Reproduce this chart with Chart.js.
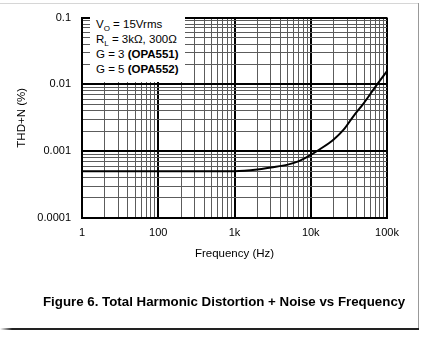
<!DOCTYPE html>
<html>
<head>
<meta charset="utf-8">
<script src="https://cdn.jsdelivr.net/npm/chart.js@4.4.0/dist/chart.umd.min.js"></script>
<style>
  html, body { margin: 0; padding: 0; background: #fff; }
  body { width: 428px; height: 361px; position: relative; overflow: hidden; font-family: "Liberation Sans", Arial, sans-serif; color: #000; }
  #chart { position: absolute; left: 0; top: 0; }
  .frame-top { position: absolute; left: 0; top: 3px; width: 418px; height: 1px; background: #d6d6d6; }
  .frame-right { position: absolute; left: 418px; top: 3px; width: 1px; height: 326px; background: #999; }
  .frame-bottom { position: absolute; left: 0; top: 328px; width: 419px; height: 2px; background: linear-gradient(to right, #fff, #222 12px); }
  #note { position: absolute; left: 90px; top: 13px; width: 95px; height: 69px; background: #fff; box-sizing: border-box; padding: 4px 0 0 6px; font-size: 11.5px; line-height: 15px; white-space: nowrap; }
  #note sub { font-size: 8px; vertical-align: -3px; line-height: 0; }
  #caption { position: absolute; left: 43px; top: 294px; font-size: 13.3px; line-height: 16px; font-weight: bold; white-space: nowrap; }
</style>
</head>
<body>
<div class="frame-top"></div>
<div class="frame-right"></div>
<div class="frame-bottom"></div>
<canvas id="chart" width="428" height="361"></canvas>
<div id="note">
  V<sub>O</sub> = 15Vrms<br>
  R<sub>L</sub> = 3kΩ, 300Ω<br>
  G = 3 <b>(OPA551)</b><br>
  G = 5 <b>(OPA552)</b>
</div>
<div id="caption">Figure 6. Total Harmonic Distortion + Noise vs Frequency</div>
<script>
// THD+N vs frequency
const freqHz = [10, 100, 500, 1000, 2000, 3000, 5000, 7000, 10000, 13000, 20000, 27000, 36000, 50000, 70000, 100000];
const thdPct = [0.0005, 0.0005, 0.0005, 0.0005, 0.00053, 0.00057, 0.00063, 0.00071, 0.00088, 0.00106, 0.0015, 0.0021, 0.0033, 0.0053, 0.0091, 0.0158];

// decade ticks and their printed labels (the plot prints "1" under the 10 Hz line)
const xTickValues = [10, 100, 1000, 10000, 100000];
const xTickLabels = ['1', '100', '1k', '10k', '100k'];
const yTickValues = [0.0001, 0.001, 0.01, 0.1];
const yTickLabels = ['0.0001', '0.001', '0.01', '0.1'];

const fontFamily = '"Liberation Sans", Arial, sans-serif';

// 1..9 in every decade for the grid
function gridValues(decades) {
    const out = [];
    decades.forEach((d, i) => {
        if (i === decades.length - 1) {
            out.push(d);
            return;
        }
        for (let m = 1; m <= 9; m++) out.push(m * d);
    });
    return out;
}

function isDecade(v) {
    const l = Math.log10(v);
    return Math.abs(l - Math.round(l)) < 1e-6;
}

function labelFor(values, labels, v) {
    const i = values.findIndex((t) => Math.abs(t - v) / t < 1e-6);
    return i >= 0 ? labels[i] : '';
}

const gridColor = (c) => (isDecade(c.tick.value) ? '#000' : '#5c5c5c');
const gridWidth = (c) => (isDecade(c.tick.value) ? 2 : 1);

const ctx = document.getElementById('chart').getContext('2d');
new Chart(ctx, {
    type: 'line',
    data: {
        datasets: [{
            data: freqHz.map((f, i) => ({ x: f, y: thdPct[i] })),
            borderColor: '#000',
            borderWidth: 2,
            pointRadius: 0,
            fill: false,
            cubicInterpolationMode: 'monotone',
        }],
    },
    options: {
        responsive: false,
        animation: false,
        devicePixelRatio: 1,
        layout: { padding: { left: 0, top: 11, right: 41, bottom: 100 } },
        plugins: {
            legend: { display: false },
            tooltip: { enabled: false },
        },
        scales: {
            x: {
                type: 'logarithmic',
                position: 'bottom',
                min: 10,
                max: 100000,
                afterBuildTicks: (s) => { s.ticks = gridValues(xTickValues).map((v) => ({ value: v })); },
                afterFit: (s) => { s.height = 43; },
                ticks: {
                    autoSkip: false,
                    maxRotation: 0,
                    padding: 8,
                    color: '#000',
                    font: { family: fontFamily, size: 11 },
                    callback: (v) => labelFor(xTickValues, xTickLabels, v),
                },
                title: {
                    display: true,
                    text: 'Frequency (Hz)',
                    color: '#000',
                    font: { family: fontFamily, size: 11.5 },
                    padding: { top: 0, bottom: 0 },
                },
                grid: { color: gridColor, lineWidth: gridWidth, drawTicks: false },
                border: { color: '#000', width: 2 },
            },
            y: {
                type: 'logarithmic',
                min: 0.0001,
                max: 0.1,
                afterBuildTicks: (s) => { s.ticks = gridValues(yTickValues).map((v) => ({ value: v })); },
                afterFit: (s) => { s.width = 82; },
                ticks: {
                    autoSkip: false,
                    padding: 11,
                    color: '#000',
                    font: { family: fontFamily, size: 11 },
                    callback: (v) => labelFor(yTickValues, yTickLabels, v),
                },
                title: {
                    display: true,
                    text: 'THD+N (%)',
                    color: '#000',
                    font: { family: fontFamily, size: 11.5 },
                    padding: { top: 15, bottom: 0 },
                },
                grid: { color: gridColor, lineWidth: gridWidth, drawTicks: false },
                border: { color: '#000', width: 2 },
            },
        },
    },
});
</script>
</body>
</html>
